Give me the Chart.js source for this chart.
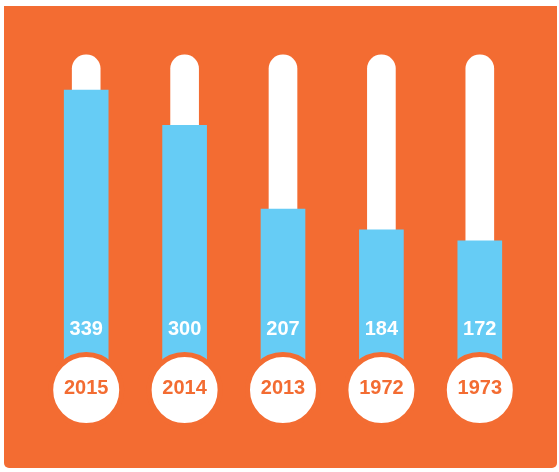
<!DOCTYPE html>
<html>
<head>
<meta charset="utf-8">
<script src="https://cdn.jsdelivr.net/npm/chart.js@4/dist/chart.umd.min.js"></script>
<style>
  html, body { margin: 0; padding: 0; background: #ffffff; }
  #wrap { width: 559px; height: 472px; position: relative; }
</style>
</head>
<body>
<div id="wrap"><canvas id="thermoChart"></canvas></div>
<script>
// data
const years = ["2015", "2014", "2013", "1972", "1973"];
const counts = [339, 300, 207, 184, 172];
const trackMax = [378, 378, 378, 378, 378];
const bulbLevel = [6.6, 6.6, 6.6, 6.6, 6.6];

const ORANGE = "#F36C32";
const BLUE = "#66CCF5";

// orange panel + labels
const panelPlugin = {
    id: "panel",
    beforeDraw(chart) {
        const ctx = chart.ctx;
        ctx.save();
        ctx.fillStyle = ORANGE;
        ctx.beginPath();
        ctx.roundRect(4, 6, 553, 462, [0, 0, 5, 5]);
        ctx.fill();
        ctx.restore();
    },
    afterDatasetsDraw(chart) {
        const ctx = chart.ctx;
        const x = chart.scales.x;
        ctx.save();
        ctx.font = "bold 20px 'Liberation Sans', Arial, sans-serif";
        ctx.textAlign = "center";
        ctx.textBaseline = "middle";
        years.forEach((yr, i) => {
            const px = x.getPixelForValue(i);
            ctx.fillStyle = "#ffffff";
            ctx.fillText(String(counts[i]), px, 329);
            ctx.fillStyle = ORANGE;
            ctx.fillText(yr, px, 388);
        });
        ctx.restore();
    }
};

new Chart(document.getElementById("thermoChart"), {
    type: "bar",
    data: {
        labels: years,
        datasets: [
            {
                type: "line",
                data: bulbLevel,
                showLine: false,
                pointRadius: 35.5,
                pointBackgroundColor: "#ffffff",
                pointBorderColor: ORANGE,
                pointBorderWidth: 5,
                clip: false,
                order: 1
            },
            {
                data: counts,
                backgroundColor: BLUE,
                barThickness: 44,
                grouped: false,
                order: 2
            },
            {
                data: trackMax,
                backgroundColor: "#ffffff",
                barThickness: 28,
                borderRadius: 14,
                borderSkipped: "start",
                grouped: false,
                order: 3
            }
        ]
    },
    options: {
        responsive: true,
        maintainAspectRatio: false,
        animation: false,
        events: [],
        layout: { autoPadding: false, padding: { left: 37, right: 30, top: 35, bottom: 76 } },
        plugins: {
            legend: { display: false },
            tooltip: { enabled: false }
        },
        scales: {
            x: { display: false, offset: true },
            y: { display: false, min: 0, max: 400 }
        }
    },
    plugins: [panelPlugin]
});
</script>
</body>
</html>
